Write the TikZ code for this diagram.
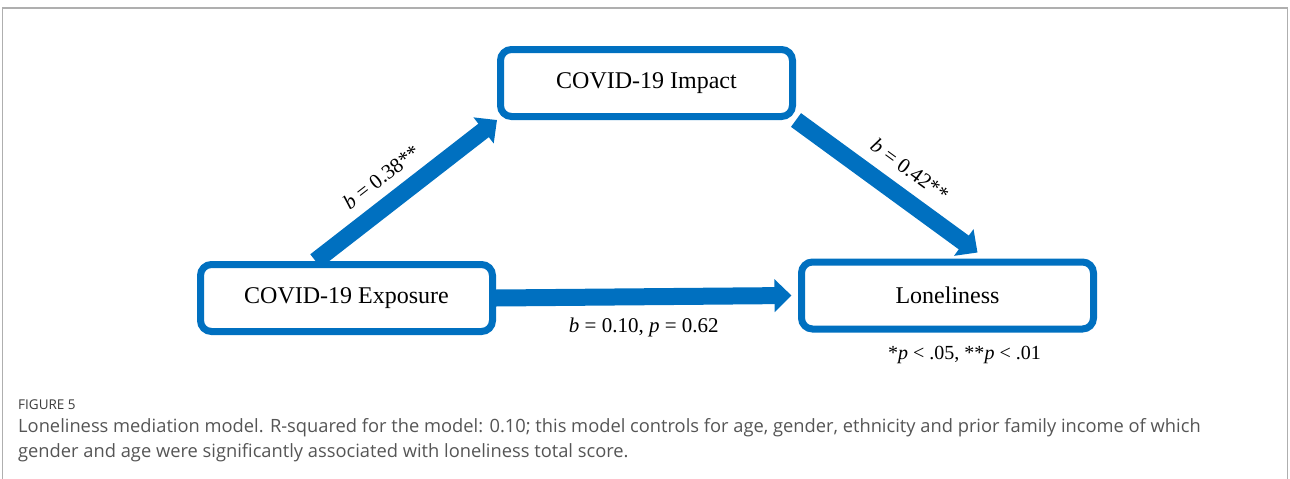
\documentclass[tikz,border=0pt]{standalone}
\usepackage{fontspec}
\setmainfont{Liberation Serif}
\newfontfamily\capfont{Open Sans}
\usetikzlibrary{arrows.meta,positioning}
\pgfdeclarelayer{background}
\pgfsetlayers{background,main}
\definecolor{pathblue}{RGB}{0,112,192}
\definecolor{framegray}{RGB}{175,175,175}
\definecolor{captext}{RGB}{85,85,85}
\definecolor{caphead}{RGB}{60,60,60}
\begin{document}
\begin{tikzpicture}[x=1pt,y=-1pt,
  varbox/.style={draw=pathblue, line width=7pt, rounded corners=11pt, fill=white,
    minimum width=292pt, minimum height=67pt, inner sep=0pt,
    font=\fontsize{24}{28}\selectfont},
  bigarrow/.style={draw=pathblue, line width=17pt, -{Triangle[width=32pt,length=17pt]}},
  coef/.style={font=\fontsize{21}{24}\selectfont, inner sep=1pt},
  capstyle/.style={anchor=north west, inner sep=0pt, align=left, text=captext,
    font=\capfont\fontsize{18.3}{25}\selectfont},
]
\useasboundingbox (0,0) rectangle (1290,479);
\draw[framegray, line width=1.5pt] (2.5,479) -- (2.5,8) -- (1287.5,8) -- (1287.5,479);

\node[varbox] (imp) at (646.5,83) {COVID-19 Impact};
\node[varbox] (exp) at (346.5,298) {COVID-19 Exposure};
\node[varbox] (lon) at (947.5,295.5) {Loneliness};

\begin{pgfonlayer}{background}
\draw[bigarrow] ([shift={(-31,0)}]exp.north) -- (imp.south west)
  node[coef, pos=0.45, sloped, above=9pt] {\textit{b} = 0.38**};
\draw[bigarrow] (imp.south east) -- ([shift={(30,-6)}]lon.north)
  node[coef, pos=0.54, sloped, above=10pt] {\textit{b} = 0.42**};
\draw[bigarrow] (exp.east) -- ([shift={(-6.5,0)}]lon.west)
  node[coef, midway, below=12pt] {\textit{b} = 0.10, \textit{p} = 0.62};
\end{pgfonlayer}

\node[coef, anchor=center, font=\fontsize{20}{24}\selectfont] (sig) at ([shift={(17,59)}]lon.center) {*\textit{p} < .05, **\textit{p} < .01};

\node[anchor=west, inner sep=0pt, text=caphead, font=\capfont\fontsize{13.5}{15}\selectfont] (fig) at (18,405) {FIGURE 5};
\node[capstyle] (cap) at (18,418) {Loneliness mediation model. R-squared for the model: 0.10; this model controls for age, gender, ethnicity and prior family income of which\\gender and age were significantly associated with loneliness total score.};
\end{tikzpicture}
\end{document}
